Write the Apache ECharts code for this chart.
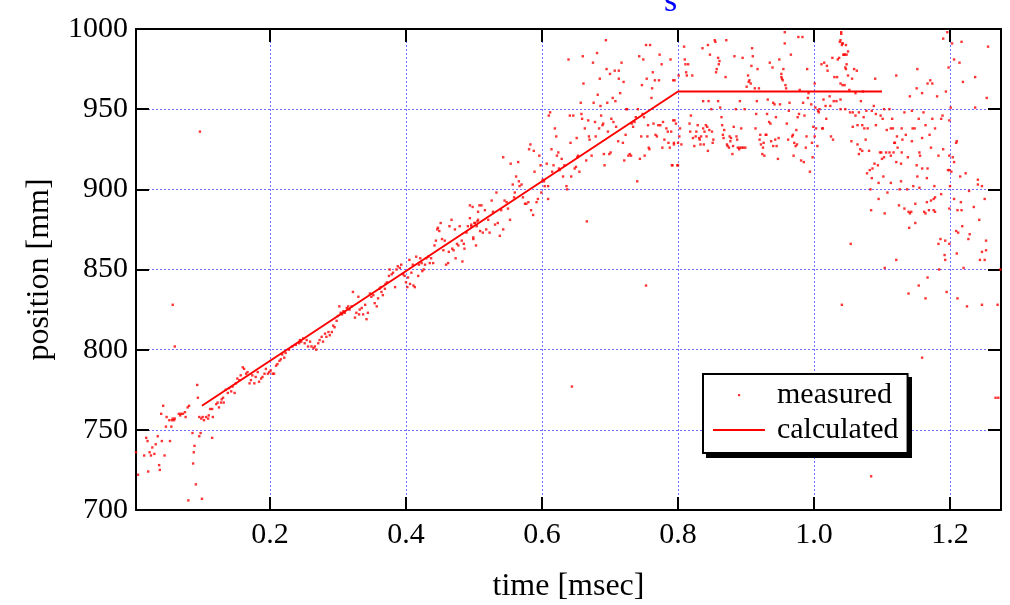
<!DOCTYPE html>
<html><head><meta charset="utf-8">
<script src="https://cdn.jsdelivr.net/npm/echarts@6/dist/echarts.min.js"></script>
<style>html,body{margin:0;padding:0;background:#fff}#c{width:1010px;height:605px}</style>
</head><body><div id="c"></div>
<script>
// ---- data (time [msec], position [mm]) ----
const xTickLabels = ['0.2','0.4','0.6','0.8','1.0','1.2'];
const yTickLabels = ['700','750','800','850','900','950','1000'];

const calculated = [[0.1,765],[0.8,961],[1.1,961]];

const measuredStart = [
[0.003,736],[0.006,722],[0.015,734],[0.018,745],[0.020,743],[0.021,724],[0.023,736],[0.025,734],
[0.027,739],[0.030,735],[0.032,741],[0.035,746],[0.037,728],[0.038,725],[0.040,760],[0.041,743],
[0.043,765],[0.045,734],[0.047,752],[0.048,758],[0.052,756],[0.053,743],[0.055,752],[0.056,756],
[0.057,828],[0.057,757],[0.059,756],[0.060,757],[0.060,802],[0.066,760],[0.068,759],[0.069,760],
[0.072,760],[0.075,761],[0.076,758],[0.079,764],[0.080,706],[0.081,765],[0.086,748],[0.087,729],
[0.088,736],[0.089,740],[0.091,716],[0.093,778],[0.094,770],[0.096,746],[0.097,936],[0.098,748],
[0.100,707],[0.115,745]
];

const measuredRamp1 = [
[0.096,758],[0.099,757],[0.101,758],[0.103,756],[0.106,758],[0.109,757],[0.110,759],[0.112,763],
[0.115,763],[0.116,758],[0.121,766],[0.123,767],[0.125,764],[0.128,767],[0.129,769],[0.131,770],
[0.132,767],[0.135,775],[0.138,773],[0.140,776],[0.143,774],[0.145,777],[0.148,773],[0.150,779],
[0.152,782],[0.155,781],[0.157,784],[0.160,789],[0.162,788],[0.165,785],[0.167,786],[0.170,779],
[0.172,781],[0.174,784],[0.177,779],[0.179,783],[0.182,786],[0.184,780],[0.187,782],[0.189,783],
[0.192,785],[0.194,788],[0.197,785],[0.199,786],[0.201,787],[0.204,785],[0.206,785],[0.209,790],
[0.211,791],[0.214,793],[0.216,794],[0.218,797],[0.221,795],[0.223,798],[0.228,800],[0.233,802],
[0.238,803],[0.243,804]
];

const measuredRamp2 = [
[0.244,806],[0.246,805],[0.249,807],[0.251,804],[0.254,806],[0.256,802],[0.259,805],[0.261,802],
[0.264,801],[0.266,802],[0.268,800],[0.271,804],[0.273,806],[0.276,808],[0.278,805],[0.281,810],
[0.283,808],[0.286,811],[0.288,809],[0.291,811],[0.293,815],[0.295,814],[0.298,818],[0.300,821],
[0.302,827],[0.304,823],[0.306,822],[0.308,824],[0.310,823],[0.313,826],[0.315,827],[0.317,825],
[0.320,827],[0.322,836],[0.325,820],[0.327,823],[0.330,833],[0.331,822],[0.332,825],[0.335,826],
[0.337,822],[0.340,828],[0.342,819],[0.344,823],[0.347,835],[0.349,833],[0.352,834],[0.354,829],
[0.357,827],[0.359,832],[0.361,838],[0.363,839],[0.364,836],[0.366,834],[0.369,838],[0.370,841],
[0.372,842],[0.375,846],[0.376,850],[0.379,847],[0.381,848],[0.384,839],[0.386,850],[0.388,852],
[0.391,851],[0.393,853],[0.396,847],[0.398,846],[0.400,842],[0.402,839],[0.403,845],[0.405,856],
[0.406,841],[0.408,848],[0.410,853],[0.411,840],[0.413,839],[0.415,858],[0.418,846],[0.419,853],
[0.421,857],[0.423,854],[0.424,849],[0.426,850],[0.428,853],[0.430,857],[0.433,858],[0.435,854],
[0.437,857],[0.440,854],[0.442,865],[0.444,868],[0.446,875],[0.447,876],[0.449,874],[0.451,879],
[0.453,869],[0.455,862],[0.457,868],[0.459,853],[0.462,854],[0.463,861],[0.464,877],[0.467,881],
[0.468,863],[0.470,862],[0.472,875],[0.473,857],[0.475,866],[0.477,865],[0.479,877],[0.482,868],
[0.483,855],[0.485,866],[0.486,863],[0.489,873],[0.491,877],[0.494,882],[0.496,878],[0.498,889],
[0.499,869],[0.501,879],[0.503,865],[0.505,880],[0.506,881],[0.508,890]
];

const measuredRamp3 = [
[0.494,890],[0.496,877],[0.499,870],[0.501,879],[0.504,877],[0.506,886],[0.509,874],[0.511,890],
[0.513,873],[0.516,887],[0.518,875],[0.521,881],[0.523,873],[0.526,893],[0.528,886],[0.531,878],
[0.533,898],[0.535,879],[0.538,871],[0.540,887],[0.543,920],[0.543,875],[0.545,893],[0.548,892],
[0.550,888],[0.553,881],[0.554,916],[0.557,903],[0.559,895],[0.560,898],[0.562,908],[0.565,917],
[0.566,905],[0.567,902],[0.570,903],[0.572,895],[0.575,891],[0.577,891],[0.580,892],[0.581,925],
[0.583,928],[0.584,887],[0.587,884],[0.588,924],[0.589,911],[0.592,892],[0.594,894],[0.596,921],
[0.598,915],[0.599,898],[0.601,906],[0.603,905],[0.604,902],[0.607,916],[0.609,902],[0.609,894],
[0.610,946],[0.612,948],[0.614,925],[0.615,911],[0.617,915],[0.619,938],[0.621,933],[0.622,921],
[0.624,923],[0.625,913],[0.626,912],[0.629,919],[0.631,908],[0.633,915],[0.636,902],[0.637,900],
[0.639,981],[0.641,946],[0.642,929],[0.643,908],[0.644,777],[0.646,946],[0.648,913],[0.650,914],
[0.651,932],[0.652,920],[0.653,921],[0.655,911],[0.657,954],[0.658,947],[0.659,944],[0.660,983],
[0.661,966],[0.663,938],[0.665,918],[0.666,880],[0.668,943],[0.669,933],[0.670,931],[0.673,921],
[0.675,979],[0.676,954],[0.678,942],[0.679,933],[0.681,985],[0.682,959],[0.684,938],[0.685,969],
[0.686,952],[0.687,946],[0.689,940],[0.690,941],[0.691,922],[0.692,915],[0.694,993],[0.695,975],
[0.696,954],[0.697,936],[0.699,922],[0.700,972],[0.701,923],[0.702,944],[0.704,957],[0.705,942],
[0.707,974],[0.708,955],[0.709,939],[0.712,930],[0.713,974],[0.713,969],[0.715,960],[0.717,979],
[0.719,929],[0.720,967],[0.721,918],[0.723,934],[0.724,950],[0.725,950],[0.727,921],[0.729,922],
[0.731,921],[0.732,941],[0.734,939],[0.736,942],[0.738,945],[0.740,905],[0.741,950],[0.743,983],
[0.744,919],[0.746,933],[0.747,965],[0.748,947],[0.749,981],[0.750,945],[0.751,921],[0.753,990],
[0.753,840],[0.754,969],[0.755,933],[0.756,940],[0.757,926],[0.758,925],[0.759,990],[0.761,957],
[0.762,963],[0.763,973],[0.764,941],[0.766,968],[0.767,934],[0.769,933],[0.771,940],[0.772,968],
[0.773,984],[0.774,940],[0.776,978],[0.777,926],[0.778,942],[0.780,931],[0.783,938],[0.785,936],
[0.786,929],[0.788,926],[0.789,981],[0.790,936],[0.791,915],[0.793,968],[0.794,928],[0.795,943],
[0.797,941],[0.799,915],[0.800,929],[0.801,971]
];

const measuredPlateau = [
[0.795,968],[0.793,943],[0.794,929],[0.792,915],[0.800,915],[0.802,933],[0.805,928],[0.803,938],
[0.809,989],[0.810,981],[0.811,978],[0.812,973],[0.813,971],[0.815,978],[0.817,941],[0.818,936],
[0.819,946],[0.821,971],[0.822,932],[0.824,927],[0.826,933],[0.827,936],[0.829,940],[0.831,932],
[0.832,931],[0.833,928],[0.834,933],[0.836,988],[0.837,938],[0.837,955],[0.838,928],[0.839,936],
[0.841,940],[0.842,933],[0.843,939],[0.844,924],[0.844,990],[0.845,955],[0.846,937],[0.847,984],
[0.849,950],[0.850,936],[0.851,929],[0.852,931],[0.854,993],[0.855,992],[0.856,973],[0.857,975],
[0.859,982],[0.859,955],[0.860,978],[0.861,980],[0.862,951],[0.864,945],[0.865,940],[0.866,934],
[0.867,932],[0.868,937],[0.870,970],[0.871,993],[0.872,928],[0.873,927],[0.875,926],[0.876,933],
[0.877,930],[0.878,932],[0.880,922],[0.881,927],[0.882,939],[0.883,983],[0.885,950],[0.886,933],
[0.887,931],[0.888,926],[0.890,925],[0.891,926],[0.891,955],[0.893,938],[0.894,926],[0.895,982],
[0.896,926],[0.898,950],[0.899,926],[0.901,964],[0.903,971],[0.904,967],[0.905,968],[0.907,966],
[0.908,977],[0.909,988],[0.910,983],[0.913,963],[0.914,938],[0.915,947],[0.916,955],[0.917,975],
[0.919,963],[0.920,931],[0.921,934],[0.922,928],[0.924,922],[0.925,926],[0.926,929],[0.927,921],
[0.929,934],[0.930,934],[0.931,947],[0.932,956],[0.934,942],[0.935,979],[0.936,941],[0.937,930],
[0.939,976],[0.940,927],[0.940,954],[0.942,953],[0.943,931],[0.944,945],[0.945,927],[0.947,919],
[0.948,932],[0.949,981],[0.950,953],[0.952,970],[0.952,972],[0.953,969],[0.954,968],[0.955,975],
[0.957,991],[0.957,998],[0.958,965],[0.959,963],[0.960,941],[0.962,931],[0.963,949],[0.964,954],
[0.966,984],[0.968,933],[0.969,934],[0.970,921],[0.971,929],[0.973,927],[0.974,937],[0.975,928],
[0.976,945],[0.977,995],[0.978,947],[0.979,962],[0.981,918],[0.983,995],[0.984,954],[0.985,917],
[0.986,946],[0.988,926],[0.989,933],[0.990,975],[0.991,957],[0.992,960],[0.994,911],[0.996,953],
[0.997,929],[0.998,920],[0.999,939],[1.001,966],[1.001,933],[1.002,951],[1.003,938],[1.005,927],
[1.006,949],[1.007,948],[1.008,950],[1.011,978],[1.012,938],[1.013,938],[1.014,956],[1.015,979],
[1.017,952],[1.018,944],[1.019,977],[1.020,974],[1.023,958],[1.024,952],[1.025,933],[1.027,982],
[1.028,931],[1.029,955],[1.030,970],[1.033,955],[1.034,970],[1.035,981],[1.037,982],[1.038,992],
[1.039,966],[1.040,997],[1.041,990],[1.042,991],[1.043,984],[1.045,984],[1.046,950],[1.047,975],
[1.048,978]
];

const measuredEnd = [
[1.040,998],[1.039,993],[1.042,991],[1.047,990],[1.050,986],[1.045,984],[1.048,984],[1.046,976],
[1.059,975],[1.063,974],[1.056,969],[1.050,971],[1.042,965],[1.045,965],[1.039,956],[1.052,962],
[1.061,960],[1.069,955],[1.072,961],[1.090,969],[1.088,952],[1.121,971],[1.152,975],[1.167,966],
[1.171,968],[1.174,966],[1.151,963],[1.159,960],[1.141,958],[1.181,958],[1.194,961],[1.190,994],
[1.196,998],[1.203,991],[1.217,992],[1.206,981],[1.214,979],[1.198,976],[1.219,967],[1.237,970],
[1.256,989],[1.254,957],[1.237,951],[1.201,951],[1.039,950],[1.053,948],[1.057,948],[1.061,946],
[1.066,948],[1.073,945],[1.077,949],[1.085,949],[1.091,947],[1.098,946],[1.101,944],[1.103,950],
[1.111,950],[1.115,944],[1.133,948],[1.144,949],[1.154,944],[1.161,948],[1.174,944],[1.187,944],
[1.189,946],[1.199,943],[1.057,939],[1.064,940],[1.071,940],[1.074,938],[1.079,938],[1.091,940],
[1.107,937],[1.113,938],[1.116,938],[1.122,933],[1.129,938],[1.135,934],[1.145,938],[1.148,938],
[1.159,932],[1.164,940],[1.170,934],[1.178,938],[1.130,931],[1.144,930],[1.119,929],[1.118,929],
[1.123,926],[1.076,931],[1.064,928],[1.055,930],[1.068,925],[1.071,924],[1.066,922],[1.081,924],
[1.097,923],[1.099,923],[1.106,923],[1.111,923],[1.117,923],[1.113,921],[1.103,920],[1.100,919],
[1.129,923],[1.138,920],[1.155,923],[1.156,921],[1.172,926],[1.183,921],[1.190,925],[1.199,921],
[1.209,929],[1.210,930],[1.204,920],[1.206,917],[1.089,916],[1.082,912],[1.078,910],[1.085,907],
[1.094,915],[1.086,913],[1.102,908],[1.121,917],[1.128,916],[1.151,915],[1.159,913],[1.167,913],
[1.152,908],[1.166,907],[1.128,905],[1.113,904],[1.095,904],[1.199,912],[1.197,912],[1.202,911],
[1.223,910],[1.215,908],[1.241,906],[1.241,903],[1.247,902],[1.083,900],[1.108,898],[1.126,900],
[1.137,900],[1.146,902],[1.155,901],[1.177,902],[1.187,897],[1.200,902],[1.228,899],[1.095,894],
[1.084,887],[1.104,885],[1.125,890],[1.133,888],[1.139,886],[1.141,885],[1.143,886],[1.149,891],
[1.162,886],[1.164,885],[1.166,892],[1.169,887],[1.172,893],[1.176,887],[1.178,886],[1.176,894],
[1.178,895],[1.199,888],[1.206,894],[1.211,887],[1.216,892],[1.217,887],[1.235,889],[1.251,894],
[1.140,876],[1.149,879],[1.243,881],[1.218,877],[1.209,874],[1.212,873],[1.229,872],[1.227,869],
[1.253,868],[1.186,869],[1.193,868],[1.199,866],[1.183,866],[1.054,866],[1.121,856],[1.192,859],
[1.193,856],[1.210,860],[1.247,861],[1.253,862],[1.244,856],[1.251,856],[1.104,851],[1.184,850],
[1.220,851],[1.274,850],[1.167,845],[1.154,840],[1.139,835],[1.164,832],[1.195,836],[1.211,832],
[1.225,827],[1.247,828],[1.270,828],[1.041,828],[1.159,795],[1.267,770],[1.271,770],[1.084,721]
];

const measured = [].concat(measuredStart, measuredRamp1, measuredRamp2, measuredRamp3, measuredPlateau, measuredEnd);

// ---- chart ----
const FONT = '"Liberation Serif", "Times New Roman", serif';
const chart = echarts.init(document.getElementById('c'), null, {renderer: 'canvas'});
const axisLine = {show: true, onZero: false, lineStyle: {color: '#000', width: 2}};
const axisTick = {show: true, inside: true, length: 13, lineStyle: {color: '#000', width: 2}};
const gridLine = {show: true, lineStyle: {color: '#6f6fff', width: 1, type: [2, 2]}};

chart.setOption({
  animation: false,
  backgroundColor: '#fff',
  graphic: [{
    type: 'rect', z: 3, shape: {x: 706, y: 377, width: 206, height: 81},
    style: {fill: '#000'}
  }, {
    type: 'text', x: 664, y: 19,
    style: {text: 's', font: '34px ' + FONT, fill: '#0000ff', textVerticalAlign: 'bottom'}
  }],
  grid: {left: 136, right: 9, top: 29, bottom: 95, containLabel: false, outerBoundsMode: 'none'},
  legend: {
    orient: 'vertical', left: 703, top: 374, z: 5,
    padding: [6, 9, 8, 10], itemGap: 5, itemWidth: 52, itemHeight: 14,
    backgroundColor: '#fff', borderColor: '#000', borderWidth: 2, borderRadius: 0,
    textStyle: {fontFamily: FONT, fontSize: 30, color: '#000', padding: [0, 0, 0, 7]},
    data: [
      {name: 'measured', icon: 'path://M0,0h0.01v0.01h-0.01zM25,6h2.2v2.2h-2.2zM52,14h0.01v0.01h-0.01z'},
      {name: 'calculated', icon: 'path://M0,0h0.01v0.01h-0.01zM0,6h52v2h-52zM52,14h0.01v0.01h-0.01z'}
    ]
  },
  xAxis: [{
    type: 'value', min: 0.003, max: 1.275, splitNumber: 6, minInterval: 0.2, maxInterval: 0.2,
    position: 'bottom',
    name: 'time [msec]', nameLocation: 'middle', nameGap: 61,
    nameTextStyle: {fontFamily: FONT, fontSize: 32, color: '#000'},
    axisLine: axisLine, axisTick: axisTick, splitLine: gridLine,
    axisLabel: {
      fontFamily: FONT, fontSize: 30, color: '#000', margin: 10,
      showMinLabel: false, showMaxLabel: false,
      formatter: function (v) { const s = v.toFixed(1); return xTickLabels.indexOf(s) >= 0 ? s : ''; }
    }
  }, {
    type: 'value', min: 0.003, max: 1.275, splitNumber: 6, minInterval: 0.2, maxInterval: 0.2,
    position: 'top', axisLine: axisLine, axisTick: axisTick,
    splitLine: {show: false}, axisLabel: {show: false}
  }],
  yAxis: [{
    type: 'value', min: 700, max: 1000, interval: 50, position: 'left',
    name: 'position [mm]', nameLocation: 'middle', nameGap: 80, nameRotate: 90,
    nameTextStyle: {fontFamily: FONT, fontSize: 32, color: '#000'},
    axisLine: axisLine, axisTick: axisTick, splitLine: gridLine,
    axisLabel: {
      fontFamily: FONT, fontSize: 30, color: '#000', margin: 8,
      formatter: function (v) { const s = String(v); return yTickLabels.indexOf(s) >= 0 ? s : ''; }
    }
  }, {
    type: 'value', min: 700, max: 1000, interval: 50, position: 'right',
    axisLine: axisLine, axisTick: axisTick, splitLine: {show: false}, axisLabel: {show: false}
  }],
  series: [{
    name: 'measured', type: 'scatter', data: measured,
    symbol: 'rect', symbolSize: 2.4, itemStyle: {color: '#ff0000'}, z: 2
  }, {
    name: 'calculated', type: 'line', data: calculated,
    symbol: 'none', showSymbol: false, lineStyle: {color: '#ff0000', width: 2}, itemStyle: {color: '#ff0000'}, z: 3
  }]
});
</script>
</body></html>
